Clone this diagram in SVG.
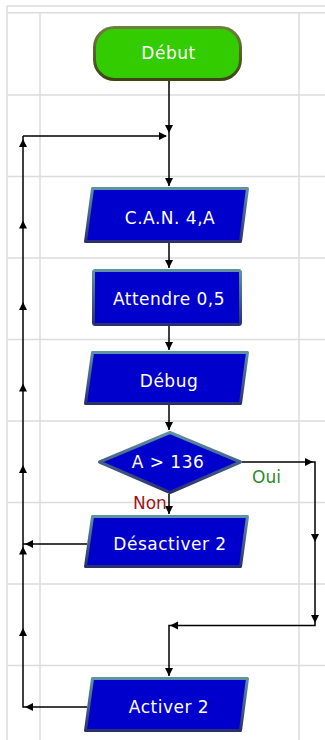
<svg xmlns="http://www.w3.org/2000/svg" width="325" height="740" viewBox="0 0 325 740">
<defs>
<linearGradient id="bs" x1="0" y1="0" x2="0" y2="1">
<stop offset="0" stop-color="#5f93a3"/>
<stop offset="1" stop-color="#2b2f6e"/>
</linearGradient>
<linearGradient id="gs" x1="0" y1="0" x2="0" y2="1">
<stop offset="0" stop-color="#6f7f3f"/>
<stop offset="1" stop-color="#3c4614"/>
</linearGradient>
<path id="ah" d="M0,0 L-4,-8 L4,-8 Z" fill="#000"/>
</defs>
<style>
.grid{stroke:#dcdcdc;stroke-width:1.5;fill:none}
.node{fill:#0000cc;stroke:url(#bs);stroke-width:3;stroke-linejoin:round}
.start{fill:#33cc00;stroke:url(#gs);stroke-width:3}
.t{font-family:"DejaVu Sans",Verdana,sans-serif;font-size:17px;fill:#ffffff;text-anchor:middle;letter-spacing:0.5px}
.lbl{font-family:"DejaVu Sans",Verdana,sans-serif;font-size:17px}
.c{stroke:#000;stroke-width:1.5;fill:none}
</style>
<rect width="325" height="740" fill="#ffffff"/>
<g id="grid" class="grid">
<path d="M7,6 H325 M8,12.7 H325 M7,6 V740 M40,12.7 V740 M299,12.7 V740"/>
<path d="M8,95 H325 M8,176.5 H325 M8,258 H325 M8,339.5 H325 M8,421 H325 M8,502.5 H325 M8,584 H325 M8,665.5 H325"/>
</g>
<g id="connectors">
<path class="c" d="M169,81 V186 M23,136 H166 M169,243 V268 M169,326 V350 M169,405 V430 M169,494 V514 M242,462 H315 V625.5 H169 V676 M87,544 H23 M87,707 H23 V136"/>
<use href="#ah" transform="translate(169,133)"/>
<use href="#ah" transform="translate(169,186)"/>
<use href="#ah" transform="translate(167,136) rotate(-90)"/>
<use href="#ah" transform="translate(169,268)"/>
<use href="#ah" transform="translate(169,350)"/>
<use href="#ah" transform="translate(169,430)"/>
<use href="#ah" transform="translate(169,514)"/>
<use href="#ah" transform="translate(313,462) rotate(-90)"/>
<use href="#ah" transform="translate(315,542)"/>
<use href="#ah" transform="translate(315,623)"/>
<use href="#ah" transform="translate(170,625.5) rotate(90)"/>
<use href="#ah" transform="translate(169,676)"/>
<use href="#ah" transform="translate(25,544) rotate(90)"/>
<use href="#ah" transform="translate(25,707) rotate(90)"/>
<use href="#ah" transform="translate(23,139) rotate(180)"/>
<use href="#ah" transform="translate(23,220.5) rotate(180)"/>
<use href="#ah" transform="translate(23,302) rotate(180)"/>
<use href="#ah" transform="translate(23,383.5) rotate(180)"/>
<use href="#ah" transform="translate(23,465) rotate(180)"/>
<use href="#ah" transform="translate(23,546.5) rotate(180)"/>
<use href="#ah" transform="translate(23,628) rotate(180)"/>
<text class="lbl" x="252" y="483" fill="#2e8b2e">Oui</text>
<text class="lbl" x="133" y="509" fill="#a01818">Non</text>
</g>
<g id="debut">
<rect class="start" x="94.5" y="27.5" width="146" height="52" rx="20"/>
<text class="t" x="168.5" y="59">Début</text>
</g>
<g id="can">
<path class="node" d="M92.5,188.5 H247.5 L240.5,241.5 H85.5 Z"/>
<text class="t" x="170" y="224">C.A.N. 4,A</text>
</g>
<g id="attendre">
<rect class="node" x="93.5" y="270.5" width="147" height="54" rx="2"/>
<text class="t" x="169" y="305">Attendre 0,5</text>
</g>
<g id="debug">
<path class="node" d="M92.5,352.5 H247.5 L240.5,403.5 H85.5 Z"/>
<text class="t" x="169" y="387">Débug</text>
</g>
<g id="test">
<path class="node" d="M99.5,462 L170,432.5 L240.5,462 L170,492.5 Z"/>
<text class="t" x="168" y="468">A &gt; 136</text>
</g>
<g id="desactiver">
<path class="node" d="M92.5,516.5 H247.5 L240.5,566.5 H85.5 Z"/>
<text class="t" x="170" y="550">Désactiver 2</text>
</g>
<g id="activer">
<path class="node" d="M92.5,678.5 H247.5 L240.5,730.5 H85.5 Z"/>
<text class="t" x="169" y="713">Activer 2</text>
</g>
</svg>
